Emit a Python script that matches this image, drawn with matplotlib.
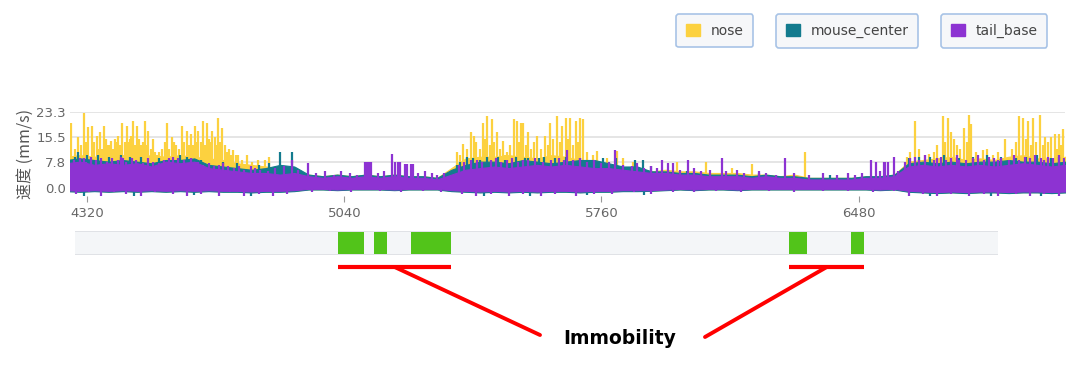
import numpy as np
import matplotlib
matplotlib.use("Agg")
import matplotlib.pyplot as plt
from matplotlib.patches import Patch

plt.rcParams['font.family'] = ['DejaVu Sans']

# colours
c_nose = '#fcd13f'
c_center = '#137b8e'
c_tail = '#8d33d2'
c_green = '#52c41a'
c_red = '#ff0000'

# time grid of the speed envelopes (frames)
t_grid = np.arange(4260, 7061, 40)

# tail_base envelope
tail_hi = [7.5, 8, 7, 7.5, 7, 7.5, 6.5, 8, 7.5, 8,
           6, 5.5, 5, 4.5, 4.5, 4, 4.5, 3.5, 3, 3.5,
           3, 3.5, 3, 3.5, 3, 3, 2.5, 4, 5.5, 6,
           6.5, 6, 6.5, 7, 6.5, 7, 6.5, 6, 6, 5.5,
           5, 4.5, 4.5, 4, 4, 3.5, 3.5, 3.5, 3, 3.5,
           3, 3, 2.5, 2.5, 2.5, 2.5, 3, 3, 3.5, 6.5,
           7, 6.5, 7, 6.5, 7, 6.5, 7, 7.5, 7, 6.5, 7]
tail_lo = [-0.8, -1, -0.8, -1, -0.8, -1, -0.8, -1, -0.8, -1,
           -0.8, -1, -1, -1.2, -1, -1, -0.8, -0.4, -0.4, -0.6,
           -0.4, -0.4, -0.4, -0.6, -0.4, -0.4, -0.4, -0.8, -1, -1.2,
           -1, -1.2, -1, -1.2, -1, -1, -1.2, -1, -1, -0.8,
           -0.8, -0.8, -0.6, -0.4, -0.6, -0.4, -0.4, -0.6, -0.4, -0.4,
           -0.4, -0.4, -0.4, -0.4, -0.4, -0.4, -0.4, -0.6, -0.4, -1,
           -1.2, -1.4, -1.2, -1.4, -1.2, -1.2, -1.4, -1.2, -1.2, -1.4, -1.2]

# mouse_center envelope
center_hi = [8.5, 9, 8.5, 8, 8.5, 8, 7.5, 8.5, 8.5, 9,
             7, 6.5, 6, 5.5, 6, 7, 6.5, 4, 3.5, 4,
             3.5, 4, 3.5, 4, 3.5, 3.5, 3, 5.5, 7, 8,
             8, 7.5, 8.5, 8, 7.5, 8, 8.5, 8.5, 7.5, 6.5,
             6.5, 5, 5, 4.5, 4.5, 4, 4, 4, 3.5, 4,
             3.5, 3.5, 3, 3, 3, 3, 3.5, 3.5, 4, 7.5,
             8, 7.5, 8, 7.5, 8, 8, 8.5, 8, 8, 7.5, 8]
center_lo = [-1.1, -1.3, -1.1, -1.3, -1.1, -1.3, -1.1, -1.3, -1.1, -1.3,
             -1.1, -1.3, -1.3, -1.5, -1.3, -1.3, -1.1, -0.6, -0.6, -0.8,
             -0.6, -0.6, -0.6, -0.8, -0.6, -0.6, -0.6, -1.1, -1.3, -1.5,
             -1.3, -1.5, -1.3, -1.5, -1.3, -1.3, -1.5, -1.3, -1.3, -1.1,
             -1.1, -1, -0.8, -0.6, -0.8, -0.6, -0.6, -0.8, -0.6, -0.6,
             -0.6, -0.6, -0.6, -0.6, -0.6, -0.6, -0.6, -0.8, -0.6, -1.3,
             -1.5, -1.7, -1.5, -1.7, -1.5, -1.5, -1.7, -1.5, -1.5, -1.7, -1.5]

# nose envelope
nose_hi = [9.5, 10, 9.5, 10, 10, 9.5, 10, 9.5, 10, 9.5,
           9, 8.5, 7.5, 7, 6.5, 6, 5, 4, 3.5, 4,
           3.5, 4, 3.5, 4, 3.5, 3.5, 3, 6, 9, 9.5,
           9.5, 10, 9.5, 9, 10, 9.5, 8.5, 7.5, 7, 6,
           6, 5, 5.5, 5, 5, 4.5, 4.5, 4.5, 4, 4,
           3.5, 4, 3, 3, 3, 3, 3.5, 3.5, 4, 8,
           8.5, 9, 9.5, 8.5, 9, 8.5, 9.5, 10, 9, 9, 9.5]
nose_lo = [-1, -1.2, -1, -1.2, -1, -1.2, -1, -1.2, -1, -1.2,
           -1, -1.2, -1.2, -1.4, -1.2, -1.2, -1, -0.5, -0.5, -0.7,
           -0.5, -0.5, -0.5, -0.7, -0.5, -0.5, -0.5, -1, -1.2, -1.4,
           -1.2, -1.4, -1.2, -1.4, -1.2, -1.2, -1.4, -1.2, -1.2, -1,
           -1, -0.9, -0.7, -0.5, -0.7, -0.5, -0.5, -0.7, -0.5, -0.5,
           -0.5, -0.5, -0.5, -0.5, -0.5, -0.5, -0.5, -0.7, -0.5, -1.2,
           -1.4, -1.6, -1.4, -1.6, -1.4, -1.4, -1.6, -1.4, -1.4, -1.6, -1.4]

# single-frame peaks (frame, mm/s)
nose_peaks = [
    (4275, 20), (4285, 12), (4295, 15.5), (4303, 13), (4312, 23), (4318, 14), (4323, 18.6),
    (4334, 19), (4340, 14), (4348, 16), (4352, 12), (4356, 17), (4362, 12), (4368, 19),
    (4373, 15), (4378, 13), (4383, 13), (4387, 14.5), (4393, 12), (4398, 15), (4403, 14),
    (4407, 16), (4412, 13), (4418, 20), (4425, 14), (4432, 19), (4437, 14), (4440, 15),
    (4444, 16), (4449, 20.5), (4455, 13), (4460, 19), (4465, 15), (4470, 13), (4477, 14),
    (4482, 20.5), (4486, 13), (4491, 17.5), (4498, 12), (4505, 15), (4510, 11), (4515, 10),
    (4520, 11), (4530, 12), (4537, 14), (4544, 20), (4550, 12), (4558, 15.5), (4563, 14),
    (4570, 13), (4578, 12), (4586, 19), (4592, 14), (4600, 17.5), (4605, 13), (4611, 16.5),
    (4616, 13), (4622, 19), (4626, 14), (4631, 17.5), (4638, 14), (4645, 20.5), (4651, 13),
    (4656, 20), (4662, 15), (4665, 14), (4670, 17.5), (4678, 15.5), (4683, 13), (4687, 21.5),
    (4692, 14), (4698, 18.5), (4706, 13), (4712, 11), (4718, 12), (4724, 10), (4729, 11.5),
    (4736, 10), (4743, 10), (4754, 8.5), (4768, 10), (4782, 8), (4799, 8.5), (4818, 8.5),
    (4830, 9.5),
    (5356, 11), (5365, 10), (5373, 13.5), (5383, 12), (5395, 17), (5404, 16), (5410, 14),
    (5420, 12), (5429, 20), (5435, 15), (5440, 22), (5447, 13), (5454, 21), (5460, 14),
    (5468, 17), (5477, 12), (5485, 14.5), (5490, 10), (5496, 11), (5505, 13), (5516, 21),
    (5524, 20.5), (5530, 14), (5535, 20), (5541, 20), (5548, 13), (5555, 17), (5562, 12),
    (5572, 14), (5580, 16), (5590, 12), (5602, 16), (5610, 13), (5616, 20), (5625, 15),
    (5636, 22), (5644, 14), (5650, 19), (5661, 21.5), (5667, 15), (5672, 21.5), (5680, 13),
    (5689, 20.5), (5695, 14), (5700, 21.5), (5709, 21), (5720, 11), (5735, 10), (5748, 11.3),
    (5775, 9), (5804, 11.3), (5821, 9), (5849, 8), (5972, 8), (6053, 8), (6126, 6),
    (6182, 7.3), (6330, 11),
    (6616, 9.5), (6625, 11), (6638, 20.5), (6650, 12), (6665, 10), (6676, 10.5), (6690, 11),
    (6700, 13), (6715, 22), (6722, 14), (6729, 21.5), (6738, 17), (6746, 15), (6755, 13),
    (6765, 12), (6774, 18.5), (6783, 14), (6788, 22.5), (6794, 19.5), (6810, 11), (6827, 11.5),
    (6840, 12), (6855, 10), (6870, 11), (6890, 15), (6910, 12), (6920, 14), (6930, 22),
    (6941, 21.5), (6948, 15), (6955, 20.5), (6962, 13), (6969, 21.5), (6978, 14), (6988, 22.3),
    (6995, 13), (7002, 15.5), (7010, 14), (7019, 15.5), (7030, 16.5), (7035, 12), (7041, 16.5),
    (7048, 13), (7052, 18),
]

center_peaks = [
    (4285, 9.5), (4295, 11), (4320, 10), (4350, 10), (4380, 9.5), (4415, 10), (4440, 9.5),
    (4470, 9.5), (4520, 9), (4580, 10), (4600, 9.5), (4640, 8.5), (4700, 8), (4740, 7.5),
    (4800, 7), (4830, 7.5), (4860, 11), (4894, 11),
    (5356, 7), (5365, 8), (5384, 9.5), (5400, 9), (5420, 8.5), (5440, 9.5), (5470, 9.5),
    (5490, 8.5), (5520, 9.5), (5545, 9), (5555, 9), (5585, 9), (5600, 9.5), (5630, 9),
    (5660, 9.5), (5700, 9), (5723, 8.5), (5763, 9), (5800, 9), (5855, 8.5), (5875, 8.5),
    (5900, 6.5), (6000, 5), (6200, 4.5), (6400, 4),
    (6620, 9), (6650, 9.5), (6680, 9.5), (6720, 10), (6760, 9), (6800, 9.5), (6840, 10),
    (6880, 9.5), (6920, 9), (6950, 9.5), (6980, 10), (7020, 9), (7040, 9.5),
]

tail_peaks = [
    (4282, 8.5), (4300, 9), (4310, 9), (4318, 8), (4330, 9.5), (4345, 8.5), (4360, 9),
    (4375, 8), (4390, 9), (4405, 8.5), (4415, 9.5), (4420, 9), (4430, 8), (4445, 9),
    (4458, 8.5), (4475, 7.5), (4490, 9), (4505, 8), (4520, 7.5), (4535, 8.5), (4550, 9),
    (4560, 9.5), (4575, 9), (4590, 8.5), (4610, 9), (4625, 8), (4630, 8), (4645, 7),
    (4660, 7.5), (4675, 6.5), (4690, 7), (4700, 7.5), (4715, 6.5), (4730, 6), (4745, 6.5),
    (4760, 5.5), (4780, 6.5), (4790, 6), (4805, 5.5), (4825, 5), (4845, 6), (4870, 6.5),
    (4894, 8.5), (4910, 5.5), (4939, 7.5),
    (4960, 4.5), (4985, 5), (5010, 4), (5030, 5), (5055, 4.5), (5075, 4), (5098, 8),
    (5104, 8), (5110, 8), (5116, 8), (5135, 4.5), (5150, 5), (5174, 10.5), (5182, 8),
    (5189, 8), (5196, 8), (5210, 7.3), (5216, 7.3), (5227, 7.3), (5233, 7.3), (5245, 4.5),
    (5265, 5), (5285, 4.5), (5300, 4), (5320, 4.5),
    (5360, 7), (5375, 8), (5395, 8.5), (5412, 8.5), (5425, 8), (5450, 8.5), (5465, 9),
    (5480, 8), (5495, 8.5), (5510, 9), (5525, 8), (5540, 8.5), (5555, 8.5), (5575, 9),
    (5595, 8), (5620, 8.5), (5640, 9), (5655, 8.5), (5664, 11.5), (5680, 8.5), (5700, 9),
    (5720, 8), (5740, 8.5), (5760, 7.5), (5780, 8), (5798, 11.5),
    (5820, 7), (5845, 6.5), (5860, 7.5), (5880, 6), (5900, 6.5), (5915, 6), (5930, 8.5),
    (5947, 7.5), (5961, 7.5), (5980, 5.5), (6003, 8.5), (6020, 6), (6040, 5), (6065, 5.5),
    (6098, 9), (6110, 5), (6140, 5.5), (6160, 4.5), (6200, 5), (6220, 4.5), (6250, 4),
    (6274, 9), (6300, 4.5), (6340, 4), (6380, 4.5), (6420, 4), (6450, 4.5), (6470, 4),
    (6490, 4.5), (6514, 8.5), (6528, 8), (6540, 5), (6550, 8), (6555, 8), (6561, 8),
    (6578, 9.5), (6590, 5),
    (6610, 8), (6625, 9), (6638, 9.5), (6650, 8.5), (6665, 10), (6690, 8.5), (6700, 9),
    (6710, 9.5), (6725, 8.5), (6740, 9), (6755, 10), (6760, 8.5), (6780, 8.5), (6800, 9),
    (6815, 10), (6830, 8.5), (6845, 9.5), (6860, 9), (6870, 8.5), (6880, 9), (6900, 8.5),
    (6915, 10), (6930, 8.5), (6945, 9.5), (6960, 9), (6975, 10), (6990, 9), (7000, 8.5),
    (7010, 9.5), (7025, 9), (7040, 10), (7055, 9),
]

# dips below zero (frame, mm/s)
center_dips = [
    (4310, -2.5), (4450, -2.5), (4620, -2.2), (4780, -2.5), (5430, -2.5), (5560, -2.5),
    (5720, -2.2), (5880, -2.2), (6680, -2.5), (6850, -2.5), (6990, -2.5),
]
tail_dips = [
    (4290, -2), (4325, -1.5), (4360, -2.5), (4395, -1.5), (4430, -2), (4470, -2.5),
    (4510, -1.5), (4560, -2), (4600, -2.5), (4640, -2), (4690, -2.5), (4720, -1.5),
    (4760, -2.5), (4800, -2), (4840, -2.5), (4880, -2), (4950, -1.5), (5000, -1.2),
    (5060, -1.5), (5140, -1), (5200, -1.5), (5260, -1.2), (5310, -1.5), (5370, -2),
    (5410, -2.5), (5450, -2), (5500, -2.5), (5540, -2), (5590, -2.5), (5630, -2),
    (5690, -2.5), (5740, -2), (5790, -2), (5850, -1.5), (5900, -2), (5960, -1.5),
    (6020, -1.5), (6080, -1.2), (6150, -1.5), (6230, -1.2), (6300, -1.5), (6380, -1.2),
    (6450, -1), (6520, -1.5), (6580, -1.2), (6620, -2.5), (6660, -2), (6700, -2.5),
    (6740, -2), (6790, -2.5), (6830, -2), (6870, -2.5), (6920, -2), (6960, -2.5),
    (7000, -2), (7040, -2.5),
]

# immobility timeline
timeline_start, timeline_end = 4286, 6871
immob_start = [5023, 5124, 5227, 6286, 6459]
immob_end = [5096, 5160, 5339, 6336, 6496]
immob_groups = [[0, 1, 2], [3, 4]]

x_ticks = [4320, 5040, 5760, 6480]
y_ticks = [0.0, 7.8, 15.5, 23.3]

fig = plt.figure(figsize=(10.8, 3.66), dpi=100)
ax = fig.add_axes([70 / 1080, 1 - 196 / 366, 995 / 1080, 84 / 366])
ax_s = fig.add_axes([70 / 1080, 1 - 255 / 366, 995 / 1080, 24 / 366], sharex=ax)

series = [
    ('nose', c_nose, nose_lo, nose_hi, nose_peaks, []),
    ('mouse_center', c_center, center_lo, center_hi, center_peaks, center_dips),
    ('tail_base', c_tail, tail_lo, tail_hi, tail_peaks, tail_dips),
]
for name, col, lo, hi, peaks, dips in series:
    ax.fill_between(t_grid, lo, hi, color=col, lw=0.8, zorder=2)
    for marks in (peaks, dips):
        if marks:
            pt, pv = zip(*marks)
            ax.vlines(pt, 0, pv, color=col, lw=1.6, zorder=2)

ax.set_xlim(4272, 7058)
ax.set_ylim(-2.6, 23.3)
ax.set_yticks(y_ticks)
ax.set_yticklabels(['%.1f' % v for v in y_ticks])
ax.set_xticks(x_ticks)
ax.grid(axis='y', color='#e3e3e3', lw=1.3, zorder=0)
for s in ax.spines.values():
    s.set_visible(False)
ax.tick_params(axis='y', length=0, labelsize=9.5, labelcolor='#666666', pad=3)
ax.tick_params(axis='x', length=4, color='#999999', labelsize=9.5, labelcolor='#666666', pad=4)
ax.set_ylabel('速度 (mm/s)', family=['Noto Sans CJK SC', 'DejaVu Sans'],
              fontsize=11.5, color='#555555', labelpad=2)

# immobility strip
ax_s.axvspan(timeline_start, timeline_end, color='#f4f6f8', lw=0)
ax_s.hlines([0, 1], timeline_start, timeline_end, color='#dcdfe3', lw=1.2)
for a, b in zip(immob_start, immob_end):
    ax_s.axvspan(a, b, ymin=0.04, ymax=0.96, color=c_green, lw=0)
ax_s.set_ylim(0, 1)
ax_s.axis('off')

text_pos = (620 / 1080, 1 - 338 / 366)
line_ends = [(540 / 1080, 1 - 335 / 366), (705 / 1080, 1 - 337 / 366)]
for grp, end in zip(immob_groups, line_ends):
    g0 = min(immob_start[i] for i in grp)
    g1 = max(immob_end[i] for i in grp)
    ax_s.plot([g0, g1], [-0.5, -0.5], color=c_red, lw=3, clip_on=False,
              solid_capstyle='butt')
    ax_s.annotate('', xy=((g0 + g1) / 2, -0.5), xycoords=('data', 'axes fraction'),
                  xytext=end, textcoords='figure fraction',
                  arrowprops=dict(arrowstyle='-', color=c_red, lw=2.8,
                                  shrinkA=0, shrinkB=0))
fig.text(text_pos[0], text_pos[1], 'Immobility', ha='center', va='center',
         fontsize=13.5, fontweight='bold', color='black')

# legend: one box per series
leg_x = [676 / 1080, 776 / 1080, 941 / 1080]
for (name, col, *_), lx in zip(series, leg_x):
    leg = fig.legend(handles=[Patch(facecolor=col, edgecolor=col)], labels=[name],
                     loc='upper left', bbox_to_anchor=(lx, 1 - 14 / 366),
                     borderaxespad=0, fancybox=True, frameon=True,
                     handlelength=1.0, handleheight=1.0, handletextpad=0.8,
                     borderpad=0.7, fontsize=10, labelcolor='#444444')
    fr = leg.get_frame()
    fr.set_edgecolor('#a8c3e6')
    fr.set_facecolor('#f6f7f9')
    fr.set_alpha(1)
    fr.set_linewidth(1.2)

fig.savefig('out.png', dpi=100)
